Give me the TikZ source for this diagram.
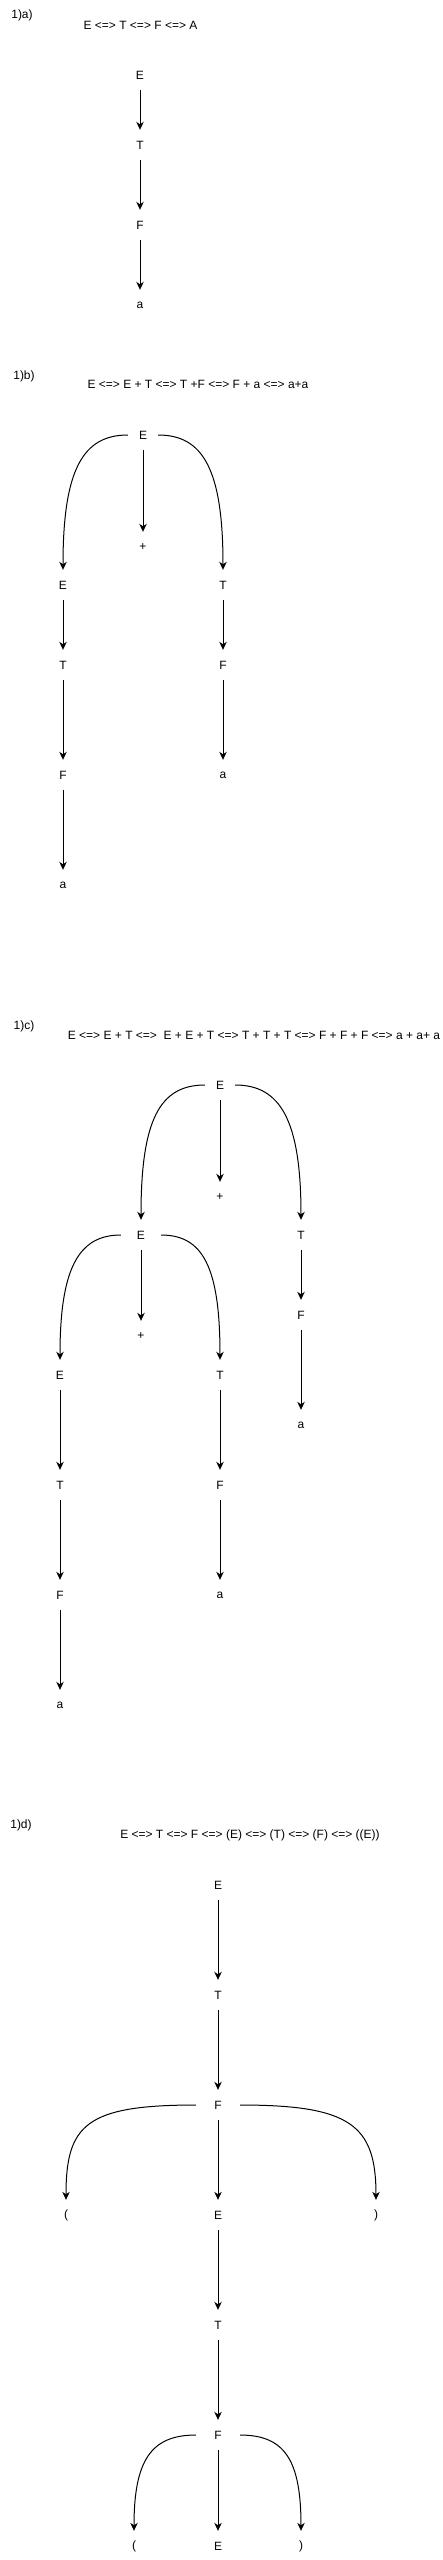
\documentclass[tikz,border=0pt]{standalone}
\usepackage{fontspec}
\setmainfont{Liberation Sans}
\usetikzlibrary{arrows.meta}
\tikzset{
  sym/.style={font=\fontsize{12}{14}\selectfont, inner sep=0pt, minimum width=30pt, minimum height=30pt},
  txt/.style={font=\fontsize{12}{14}\selectfont, inner sep=0pt},
  arr/.style={draw=black, line width=1pt, -{Stealth[length=8pt,width=7.5pt,inset=2.5pt]}},
}
\begin{document}
\begin{tikzpicture}[x=1pt,y=-1pt]
\useasboundingbox (0,0) rectangle (443,2560);

% ---------- 1a ----------
\node[txt] (la) at (22,15) {1)a)};
\node[txt] (da) at (140.5,25) {E <=> T <=> F <=> A};
\node[sym] (aE) at (140,75) {E};
\node[sym] (aT) at (140,145) {T};
\node[sym] (aF) at (140,225) {F};
\node[sym] (aa) at (140,305) {a};
\draw[arr] (aE) -- (aT);
\draw[arr] (aT) -- (aF);
\draw[arr] (aF) -- (aa);

% ---------- 1b ----------
\node[txt] (lb) at (24,376) {1)b)};
\node[txt] (db) at (198,384) {E <=> E + T <=> T +F <=> F + a <=> a+a};
\node[sym] (bE) at (143,435) {E};
\node[sym] (bp) at (143,547) {+};
\node[sym] (bE2) at (63,585) {E};
\node[sym] (bT2) at (223,585) {T};
\node[sym] (bT3) at (63,665) {T};
\node[sym] (bF3) at (223,665) {F};
\node[sym] (bF4) at (63,775) {F};
\node[sym] (ba4) at (223,775) {a};
\node[sym] (ba5) at (63,885) {a};
\draw[arr] (bE) to[out=180,in=90,out distance=45pt,in distance=100pt] (bE2);
\draw[arr] (bE) to[out=0,in=90,out distance=45pt,in distance=100pt] (bT2);
\draw[arr] (bE) -- (bp);
\draw[arr] (bE2) -- (bT3);
\draw[arr] (bT2) -- (bF3);
\draw[arr] (bT3) -- (bF4);
\draw[arr] (bF3) -- (ba4);
\draw[arr] (bF4) -- (ba5);

% ---------- 1c ----------
\node[txt] (lc) at (24,1026) {1)c)};
\node[txt] (dc) at (254,1035) {E <=> E + T <=>\ \ E + E + T <=> T + T + T <=> F + F + F <=> a + a+ a};
\node[sym] (cE) at (220,1085) {E};
\node[sym] (cp) at (220,1197) {+};
\node[sym,minimum width=40pt] (cE2) at (141,1235) {E};
\node[sym] (cT2) at (301,1235) {T};
\node[sym] (cp2) at (141,1336) {+};
\node[sym] (cE3) at (60,1375) {E};
\node[sym] (cT3) at (220,1375) {T};
\node[sym] (cF2) at (301,1315) {F};
\node[sym] (ca2) at (301,1425) {a};
\node[sym] (cT4) at (60,1485) {T};
\node[sym] (cF4) at (220,1485) {F};
\node[sym] (cF5) at (60,1595) {F};
\node[sym] (ca5) at (220,1595) {a};
\node[sym] (ca6) at (60,1705) {a};
\draw[arr] (cE) to[out=180,in=90,out distance=45pt,in distance=100pt] (cE2);
\draw[arr] (cE) to[out=0,in=90,out distance=45pt,in distance=100pt] (cT2);
\draw[arr] (cE) -- (cp);
\draw[arr] (cE2) to[out=180,in=90,out distance=42pt,in distance=92pt] (cE3);
\draw[arr] (cE2) to[out=0,in=90,out distance=42pt,in distance=92pt] (cT3);
\draw[arr] (cE2) -- (cp2);
\draw[arr] (cT2) -- (cF2);
\draw[arr] (cF2) -- (ca2);
\draw[arr] (cE3) -- (cT4);
\draw[arr] (cT3) -- (cF4);
\draw[arr] (cT4) -- (cF5);
\draw[arr] (cF4) -- (ca5);
\draw[arr] (cF5) -- (ca6);

% ---------- 1d ----------
\node[txt] (ld) at (21,1825) {1)d)};
\node[txt] (dd) at (250,1835) {E <=> T <=> F <=> (E) <=> (T) <=> (F) <=> ((E))};
\node[sym] (dE) at (218,1885) {E};
\node[sym] (dT) at (218,1995) {T};
\node[sym,minimum width=44pt] (dF) at (218,2105) {F};
\node[sym] (dl) at (66,2215) {(};
\node[sym] (dE2) at (218,2215) {E};
\node[sym] (dr) at (376,2215) {)};
\node[sym] (dT2) at (218,2325) {T};
\node[sym,minimum width=44pt] (dF2) at (218,2435) {F};
\node[sym] (dl2) at (134,2546) {(};
\node[sym] (dE3) at (218,2546) {E};
\node[sym] (dr2) at (301,2546) {)};
\draw[arr] (dE) -- (dT);
\draw[arr] (dT) -- (dF);
\draw[arr] (dF) to[out=180,in=90,out distance=110pt,in distance=75pt] (dl);
\draw[arr] (dF) to[out=0,in=90,out distance=110pt,in distance=75pt] (dr);
\draw[arr] (dF) -- (dE2);
\draw[arr] (dE2) -- (dT2);
\draw[arr] (dT2) -- (dF2);
\draw[arr] (dF2) to[out=180,in=90,out distance=45pt,in distance=70pt] (dl2);
\draw[arr] (dF2) to[out=0,in=90,out distance=45pt,in distance=70pt] (dr2);
\draw[arr] (dF2) -- (dE3);
\end{tikzpicture}
\end{document}
